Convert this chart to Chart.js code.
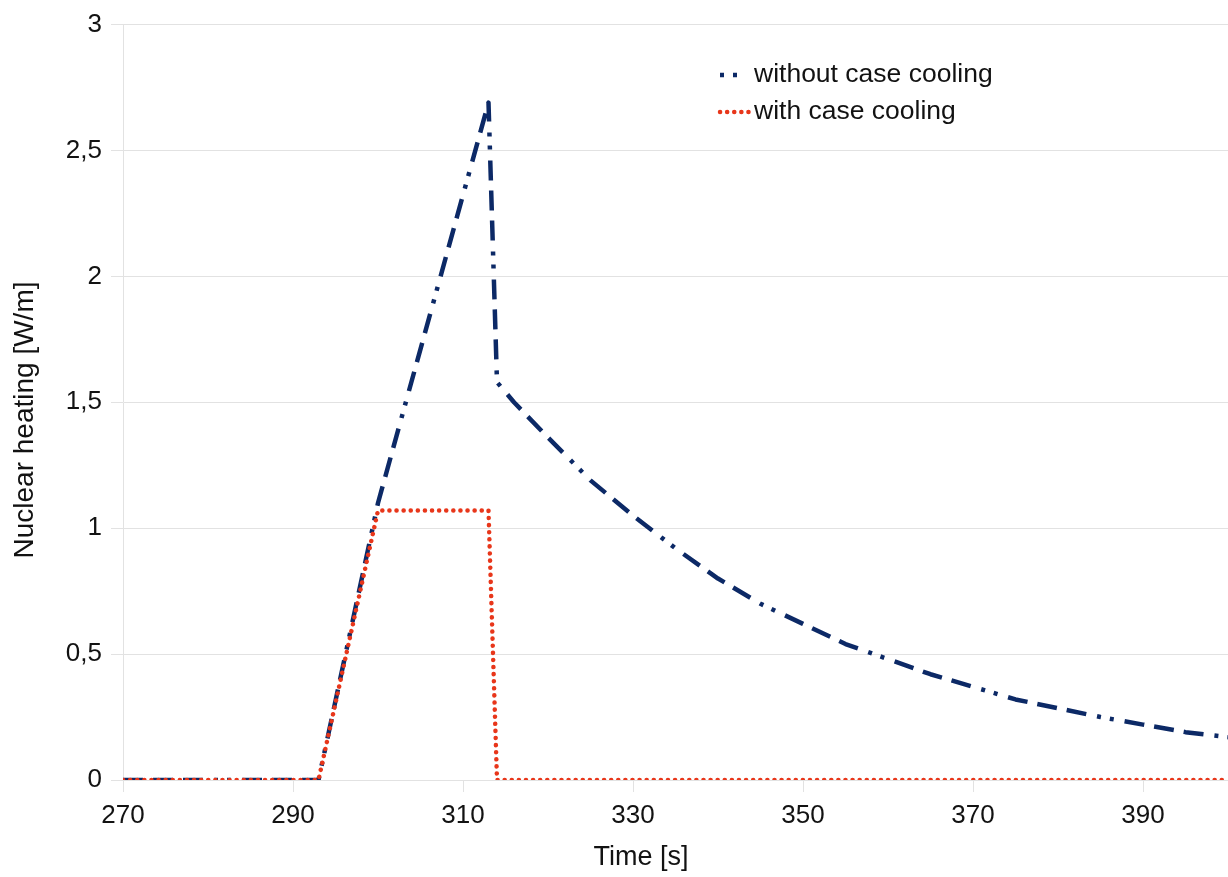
<!DOCTYPE html>
<html>
<head>
<meta charset="utf-8">
<script src="https://cdn.jsdelivr.net/npm/chart.js@4.4.1/dist/chart.umd.min.js"></script>
<style>
  html, body { margin: 0; padding: 0; background: #fff; }
  #wrap { width: 1228px; height: 877px; }
</style>
</head>
<body>
<div id="wrap"><canvas id="heatChart"></canvas></div>
<script>
// values
const timeNoCooling = [270, 293, 300, 313, 314, 316, 320, 325, 330, 335, 340, 345, 350, 355, 360, 365, 370, 375, 380, 385, 390, 395, 400];
const heatNoCooling = [0, 0, 1.10, 2.69, 1.58, 1.50, 1.36, 1.19, 1.05, 0.92, 0.80, 0.70, 0.62, 0.54, 0.48, 0.42, 0.37, 0.32, 0.285, 0.25, 0.22, 0.19, 0.17];

const timeCooling = [270, 293, 300, 313, 314, 400];
const heatCooling = [0, 0, 1.07, 1.07, 0, 0];

const xTicks = [270, 290, 310, 330, 350, 370, 390];
const seriesNames = ['without case cooling', 'with case cooling'];
const xTitle = 'Time [s]';
const yTitle = 'Nuclear heating [W/m]';

const FONT = '"Liberation Sans", Arial, sans-serif';
const BLUE = '#0c2966';
const RED  = '#e8361a';
const GRID = '#e2e2e2';
const TEXT = '#121212';

const blueDash = [20, 10, 20, 10, 20, 11, 4, 9, 4, 11];
const redDash  = [0.1, 7];

const toPoints = (xs, ys) => xs.map((x, i) => ({ x, y: ys[i] }));

// legend sitting inside the plot + axis titles (placed like the reference, which is cropped on the right)
const labelsInPlot = {
  id: 'labelsInPlot',
  afterDraw(chart) {
    const ctx = chart.ctx;
    const rows = [
      { y: 75,  color: BLUE, dash: blueDash, offset: 91, width: 4.5, cap: 'butt',  len: 22 },
      { y: 112, color: RED,  dash: redDash,  offset: 0,  width: 4.5, cap: 'round', len: 32 }
    ];
    ctx.save();
    ctx.font = `26.5px ${FONT}`;
    ctx.textBaseline = 'middle';
    rows.forEach((r, i) => {
      ctx.beginPath();
      ctx.strokeStyle = r.color;
      ctx.lineWidth = r.width;
      ctx.lineCap = r.cap;
      ctx.setLineDash(r.dash);
      ctx.lineDashOffset = r.offset;
      ctx.moveTo(720, r.y);
      ctx.lineTo(720 + r.len, r.y);
      ctx.stroke();
      ctx.setLineDash([]);
      ctx.fillStyle = TEXT;
      ctx.fillText(seriesNames[i], 754, r.y);
    });

    ctx.textAlign = 'center';
    ctx.font = `27px ${FONT}`;
    ctx.fillText(xTitle, 641, 858);
    ctx.translate(25, 420);
    ctx.rotate(-Math.PI / 2);
    ctx.font = `28px ${FONT}`;
    ctx.fillText(yTitle, 0, 0);
    ctx.restore();
  }
};

document.addEventListener('DOMContentLoaded', () => {
  const ctx = document.getElementById('heatChart').getContext('2d');
  new Chart(ctx, {
    type: 'line',
    data: {
      datasets: [
        {
          label: seriesNames[0],
          data: toPoints(timeNoCooling, heatNoCooling),
          borderColor: BLUE,
          borderWidth: 4.5,
          borderDash: blueDash,
          borderJoinStyle: 'round',
          pointRadius: 0,
          tension: 0,
          order: 1
        },
        {
          label: seriesNames[1],
          data: toPoints(timeCooling, heatCooling),
          borderColor: RED,
          borderWidth: 4.5,
          borderDash: redDash,
          borderCapStyle: 'round',
          borderJoinStyle: 'round',
          pointRadius: 0,
          tension: 0,
          order: 0
        }
      ]
    },
    options: {
      responsive: true,
      maintainAspectRatio: false,
      animation: false,
      layout: { padding: { top: 22, right: 0, bottom: 0, left: 0 } },
      scales: {
        x: {
          type: 'linear',
          min: 270,
          max: 400,
          afterBuildTicks: s => { s.ticks = xTicks.map(v => ({ value: v })); },
          afterFit: s => { s.height = 97; },
          grid: { drawOnChartArea: false, color: GRID, tickLength: 12 },
          border: { color: GRID },
          ticks: { color: TEXT, font: { family: FONT, size: 26 }, padding: 8, maxRotation: 0 }
        },
        y: {
          min: 0,
          max: 3,
          afterFit: s => { s.width = 123; },
          grid: { color: GRID, tickLength: 12 },
          border: { color: GRID },
          ticks: {
            stepSize: 0.5,
            color: TEXT,
            font: { family: FONT, size: 26 },
            padding: 9,
            callback: v => String(v).replace('.', ',')
          }
        }
      },
      plugins: {
        legend: { display: false },
        tooltip: { enabled: false }
      }
    },
    plugins: [labelsInPlot]
  });
});
</script>
</body>
</html>
